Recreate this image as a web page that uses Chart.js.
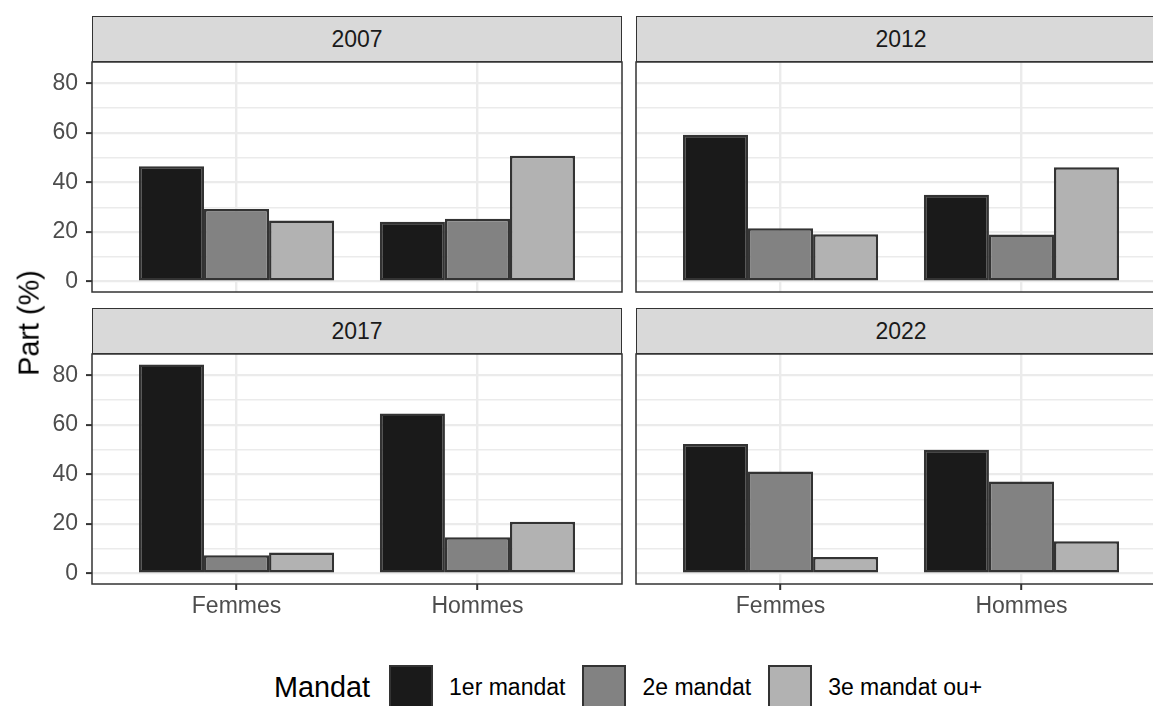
<!DOCTYPE html>
<html><head><meta charset="utf-8">
<script src="https://cdn.jsdelivr.net/npm/chart.js@4.4.1/dist/chart.umd.min.js"></script>
<style>
html,body{margin:0;padding:0;background:#fff;}
body{position:relative;overflow:hidden;width:1153px;height:706px;font-family:"Liberation Sans",Arial,sans-serif;}
canvas{position:absolute;}
.strip{position:absolute;box-sizing:border-box;background:#D9D9D9;border:1.4px solid #333;color:#1A1A1A;font-size:23px;display:flex;align-items:center;justify-content:center;width:530px;height:46px;}
#ytitle{position:absolute;left:29px;top:323px;transform:translate(-50%,-50%) rotate(-90deg);font-size:28.8px;line-height:1;white-space:nowrap;color:#000;}
#legend{position:absolute;left:274px;top:665px;height:44px;display:flex;align-items:center;white-space:nowrap;}
#legend .title{font-size:28.8px;color:#000;margin-right:19px;}
#legend .key{width:44px;height:44px;box-sizing:border-box;border:2.5px solid #333;}
#legend .lab{font-size:23px;color:#000;margin-left:16px;margin-right:17px;}
</style></head><body>
<canvas id="p0" width="626" height="238" style="left:0px;top:58px"></canvas>
<canvas id="p1" width="538" height="238" style="left:632px;top:58px"></canvas>
<canvas id="p2" width="626" height="280" style="left:0px;top:350px"></canvas>
<canvas id="p3" width="538" height="280" style="left:632px;top:350px"></canvas>
<div class="strip" id="s0" style="left:92px;top:16px"></div>
<div class="strip" id="s1" style="left:636px;top:16px"></div>
<div class="strip" id="s2" style="left:92px;top:308px"></div>
<div class="strip" id="s3" style="left:636px;top:308px"></div>
<div id="ytitle">Part (%)</div>
<div id="legend"></div>
<script>
const years = ['2007', '2012', '2017', '2022'];
const categories = ['Femmes', 'Hommes'];
const mandats = ['1er mandat', '2e mandat', '3e mandat ou+'];
// values per year: [Femmes, Hommes]
const firstTerm  = [[46.5, 24.1], [59.3, 35.0], [84.4, 64.6], [52.3, 50.0]];
const secondTerm = [[29.3, 25.4], [21.5, 19.0], [7.4, 14.7], [41.2, 37.2]];
const thirdTerm  = [[24.6, 50.8], [19.1, 46.1], [8.5, 20.9], [6.7, 13.0]];
const yTicks = [0, 10, 20, 30, 40, 50, 60, 70, 80];
const yLabelled = [0, 20, 40, 60, 80];
const legendTitle = 'Mandat';
const yTitle = 'Part (%)';

const seriesValues = [firstTerm, secondTerm, thirdTerm];
const fillColors = ['#1A1A1A', '#828282', '#B2B2B2'];
const FONT = '"Liberation Sans", Arial, sans-serif';

const borderPlugin = {
  id: 'panelBorder',
  afterDraw(chart) {
    const a = chart.chartArea, c = chart.ctx;
    c.save();
    c.strokeStyle = '#333333';
    c.lineWidth = 1.5;
    c.strokeRect(a.left, a.top, a.right - a.left, a.bottom - a.top);
    c.restore();
  }
};

function noPad(s) { s.paddingTop = 0; s.paddingBottom = 0; s.paddingLeft = 0; s.paddingRight = 0; }

years.forEach((yr, i) => {
  document.getElementById('s' + i).textContent = yr;
  const col = i % 2, row = Math.floor(i / 2);
  const showY = col === 0, showX = row === 1;
  new Chart(document.getElementById('p' + i), {
    type: 'bar',
    data: {
      datasets: mandats.map((m, k) => ({
        label: m,
        data: categories.map((c, j) => ({ x: j + 1, y: seriesValues[k][i][j] })),
        backgroundColor: fillColors[k],
        borderColor: '#333333',
        borderWidth: 2.5,
        borderSkipped: false,
        categoryPercentage: 0.81,
        barPercentage: 1
      }))
    },
    options: {
      responsive: false,
      animation: false,
      devicePixelRatio: 1,
      layout: { padding: { top: 4, right: 4, left: showY ? 0 : 4, bottom: 0 } },
      plugins: { legend: { display: false }, tooltip: { enabled: false } },
      scales: {
        x: {
          type: 'linear', min: 0.4, max: 2.6, offset: false,
          afterBuildTicks: s => { s.ticks = categories.map((c, j) => ({ value: j + 1 })); },
          afterFit: s => { s.height = showX ? 46 : 4; noPad(s); },
          border: { display: false },
          grid: { offset: false, color: '#EBEBEB', lineWidth: 2.4, drawTicks: showX, tickLength: 6, tickColor: '#333333', tickWidth: 2 },
          ticks: { display: showX, autoSkip: false, maxRotation: 0, padding: 3, color: '#4D4D4D',
                   font: { family: FONT, size: 23 }, callback: v => categories[v - 1] }
        },
        y: {
          type: 'linear', min: -4.22, max: 88.64,
          afterBuildTicks: s => { s.ticks = yTicks.map(v => ({ value: v })); },
          afterFit: s => { s.width = showY ? 92 : 0; noPad(s); },
          border: { display: false },
          grid: {
            color: '#EBEBEB',
            lineWidth: ctx => (ctx.tick && ctx.tick.value % 20 === 0) ? 2.2 : 1.4,
            drawTicks: showY, tickLength: 6, tickWidth: 2,
            tickColor: ctx => (ctx.tick && ctx.tick.value % 20 === 0) ? '#333333' : 'rgba(0,0,0,0)'
          },
          ticks: { display: showY, autoSkip: false, padding: 8, color: '#4D4D4D',
                   font: { family: FONT, size: 23 }, callback: v => yLabelled.includes(v) ? String(v) : '' }
        }
      }
    },
    plugins: [borderPlugin]
  });
});

document.getElementById('ytitle').textContent = yTitle;
const lg = document.getElementById('legend');
const t = document.createElement('span'); t.className = 'title'; t.textContent = legendTitle; lg.appendChild(t);
mandats.forEach((m, k) => {
  const key = document.createElement('span'); key.className = 'key'; key.style.background = fillColors[k]; lg.appendChild(key);
  const lab = document.createElement('span'); lab.className = 'lab'; lab.textContent = m; lg.appendChild(lab);
});
</script>
</body></html>
